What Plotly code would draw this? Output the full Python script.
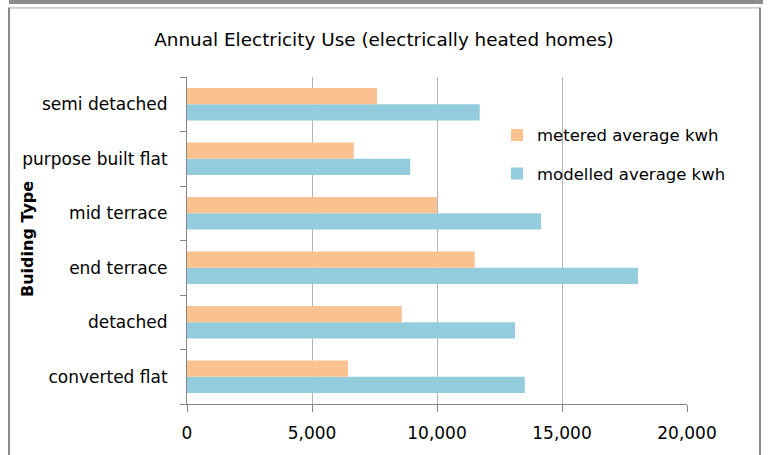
import plotly.graph_objects as go

# Building types, bottom to top
building_types = [
    "converted flat",
    "detached",
    "end terrace",
    "mid terrace",
    "purpose built flat",
    "semi detached",
]
metered_kwh = [6440, 8590, 11510, 10000, 6670, 7600]
modelled_kwh = [13510, 13120, 18040, 14160, 8930, 11710]
x_ticks = [0, 5000, 10000, 15000, 20000]

FONT = "DejaVu Sans"
ORANGE = "#FAC191"
BLUE = "#93CDDD"
AXIS = "#868686"
GRID = "#b4b4b4"

# plot area in pixels
L, R, T, B = 187, 81, 77, 49
W, H = 768, 455
PW, PH = W - L - R, H - T - B


def px(x):
    return (x - L) / PW


def py(y):
    return (H - B - y) / PH


fig = go.Figure()
fig.add_trace(go.Bar(
    y=building_types, x=modelled_kwh, orientation="h",
    name="modelled average kwh", marker=dict(color=BLUE, line=dict(width=0)),
    legendgroup="b", legendrank=2,
))
fig.add_trace(go.Bar(
    y=building_types, x=metered_kwh, orientation="h",
    name="metered average kwh", marker=dict(color=ORANGE, line=dict(width=0)),
    legendgroup="a", legendrank=1,
))

shapes = [
    # dark band across the top
    dict(type="rect", xref="paper", yref="paper",
         x0=px(9), x1=px(763), y0=py(3.5), y1=py(-2),
         fillcolor="#8c8c8c", line=dict(width=0), layer="above"),
    # chart frame
    dict(type="line", xref="paper", yref="paper",
         x0=px(9), x1=px(760), y0=py(7.5), y1=py(7.5),
         line=dict(color="#a8a8a8", width=1)),
    dict(type="line", xref="paper", yref="paper",
         x0=px(9), x1=px(9), y0=py(7), y1=py(460),
         line=dict(color="#8a8a8a", width=2)),
    dict(type="line", xref="paper", yref="paper",
         x0=px(760), x1=px(760), y0=py(7), y1=py(460),
         line=dict(color="#8a8a8a", width=2)),
]

fig.update_layout(
    width=W, height=H,
    margin=dict(l=L, r=R, t=T, b=B, pad=0),
    paper_bgcolor="white", plot_bgcolor="white",
    barmode="group", bargap=0.40, bargroupgap=0,
    font=dict(family=FONT, size=16, color="#000000"),
    title=dict(
        text="Annual Electricity Use (electrically heated homes)",
        x=0.5, xanchor="center", y=1 - 40 / H, yanchor="middle",
        font=dict(family=FONT, size=18.4, color="#000000"),
    ),
    legend=dict(
        x=px(497), y=py(118), xanchor="left", yanchor="top",
        traceorder="grouped", tracegroupgap=14,
        bgcolor="rgba(0,0,0,0)", font=dict(family=FONT, size=16.5),
    ),
    xaxis=dict(
        range=[0, 20000], tickvals=x_ticks, tickformat=",d",
        showgrid=True, gridcolor=GRID, gridwidth=1.2,
        zeroline=False, showline=True, linecolor=AXIS, linewidth=1,
        ticks="outside", ticklen=7, tickcolor=AXIS,
        ticklabelstandoff=7,
        tickfont=dict(family=FONT, size=17),
        fixedrange=True,
    ),
    yaxis=dict(
        type="category", categoryorder="array", categoryarray=building_types,
        showgrid=False, zeroline=False, showline=True,
        linecolor=AXIS, linewidth=1,
        ticks="outside", ticklen=6, tickcolor=AXIS, tickson="boundaries",
        ticklabelstandoff=15,
        tickfont=dict(family=FONT, size=17),
        fixedrange=True,
    ),
    annotations=[dict(
        text="<b>Buiding Type</b>", textangle=-90,
        xref="paper", yref="paper", x=px(27), y=py(240),
        xanchor="center", yanchor="middle", showarrow=False,
        font=dict(family=FONT, size=16, color="#000000"),
    )],
    shapes=shapes,
    showlegend=True,
)

fig.write_html("out.html")
